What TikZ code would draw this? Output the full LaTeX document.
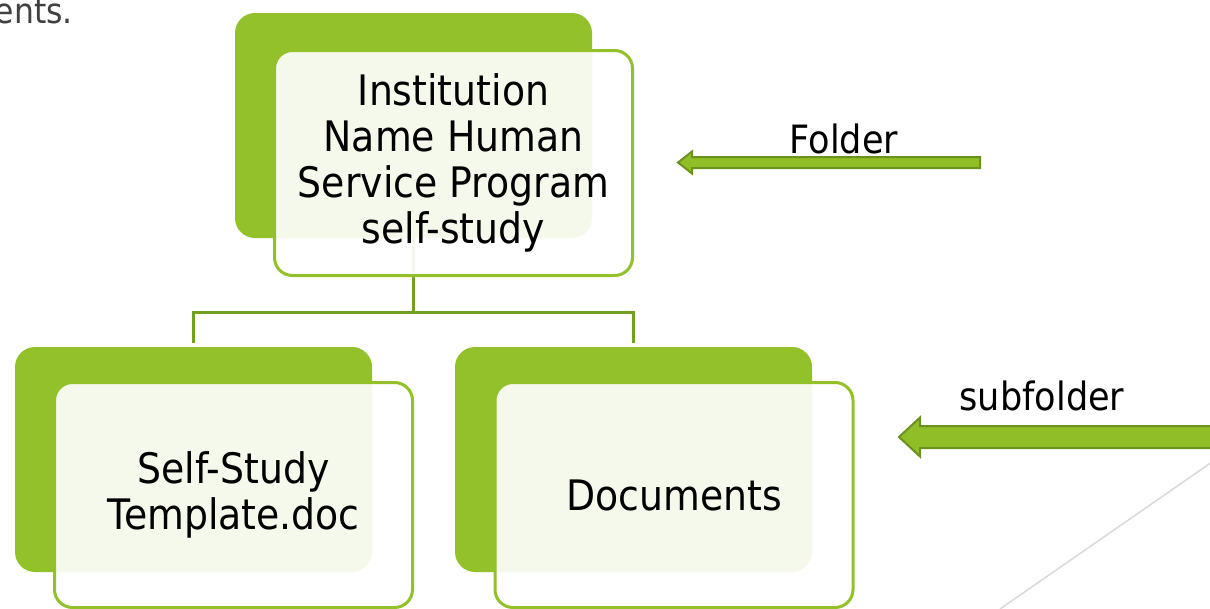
\documentclass[tikz,border=0pt]{standalone}
\usepackage{fontspec}
\setmainfont{DejaVu Sans}[FakeStretch=0.9]
\usepackage{xcolor}
\definecolor{saGreen}{HTML}{93C12A}
\definecolor{saLink}{HTML}{72A024}
\definecolor{saArrow}{HTML}{8FBE27}
\definecolor{saArrowDark}{HTML}{6B911F}
\definecolor{saGrey}{HTML}{404040}
\definecolor{saDeco}{HTML}{D9D9D9}
\usepackage{tikz}
\usetikzlibrary{positioning,calc}

\begin{document}
\begin{tikzpicture}[
      x=1pt, y=-1pt,
      backbox/.style={rectangle, rounded corners=20pt, fill=saGreen,
                  minimum width=357pt, minimum height=225pt, inner sep=0pt},
      frontbox/.style={rectangle, rounded corners=18pt, draw=saGreen, line width=3pt,
                  fill=white, fill opacity=0.91, text opacity=1,
                  minimum width=358pt, minimum height=225pt, align=center,
                  font=\fontsize{42}{46}\selectfont},
      link/.style={saLink, line width=3pt, shorten >=4pt},
      blockarrow/.style={fill=saArrow, draw=saArrowDark, line width=2pt},
      lbl/.style={font=\fontsize{39}{46}\selectfont, inner sep=0pt, anchor=base}
    ]
    \fill[white] (0,0) rectangle (1210,608);
    \useasboundingbox (0,0) rectangle (1210,608);

    % cut-off text of the slide
    \node[anchor=base east, inner sep=0pt, text=saGrey, font=\fontsize{35}{40}\selectfont] (slidetext) at (73,23) {ents.};

    % green back boxes
    \node[backbox] (topback) at (413.5,125.5) {};
    \node[backbox] (leftback) at (193.5,459.5) {};
    \node[backbox] (rightback) at (633.5,459.5) {};

    % tree links
    \draw[link] (topback.south) -- ++(0,74) -| (leftback.north);
    \draw[link] (topback.south) -- ++(0,74) -| (rightback.north);

    % front boxes
    \node[frontbox] (topfront) at ($(topback)+(40,37.5)$) {Institution\\Name Human\\Service Program\\self-study};
    \node[frontbox] (leftfront) at ($(leftback)+(40,35.5)$) {Self-Study\\Template.doc};
    \node[frontbox] (rightfront) at ($(rightback)+(40.5,35.5)$) {Documents};

    % block arrows
    \coordinate (foldertip) at (678,162.5);
    \coordinate (subtip) at (899,437);
    \filldraw[blockarrow] (foldertip) -- ++(14,-11) -- ++(0,5.5) -- ++(288,0) -- ++(0,11)
      -- ++(-288,0) -- ++(0,5.5) -- cycle;
    \filldraw[blockarrow] (subtip) -- ++(21,-19.5) -- ++(0,8.5) -- ++(300,0) -- ++(0,22)
      -- ++(-300,0) -- ++(0,8.5) -- cycle;
    \node[lbl] (folderlbl) at (844,153) {Folder};
    \node[lbl] (sublbl) at (1042,410) {subfolder};

    % slide decoration
    \draw[saDeco, line width=1.5pt] (1000,609) -- (1212,462);
  \end{tikzpicture}
\end{document}
